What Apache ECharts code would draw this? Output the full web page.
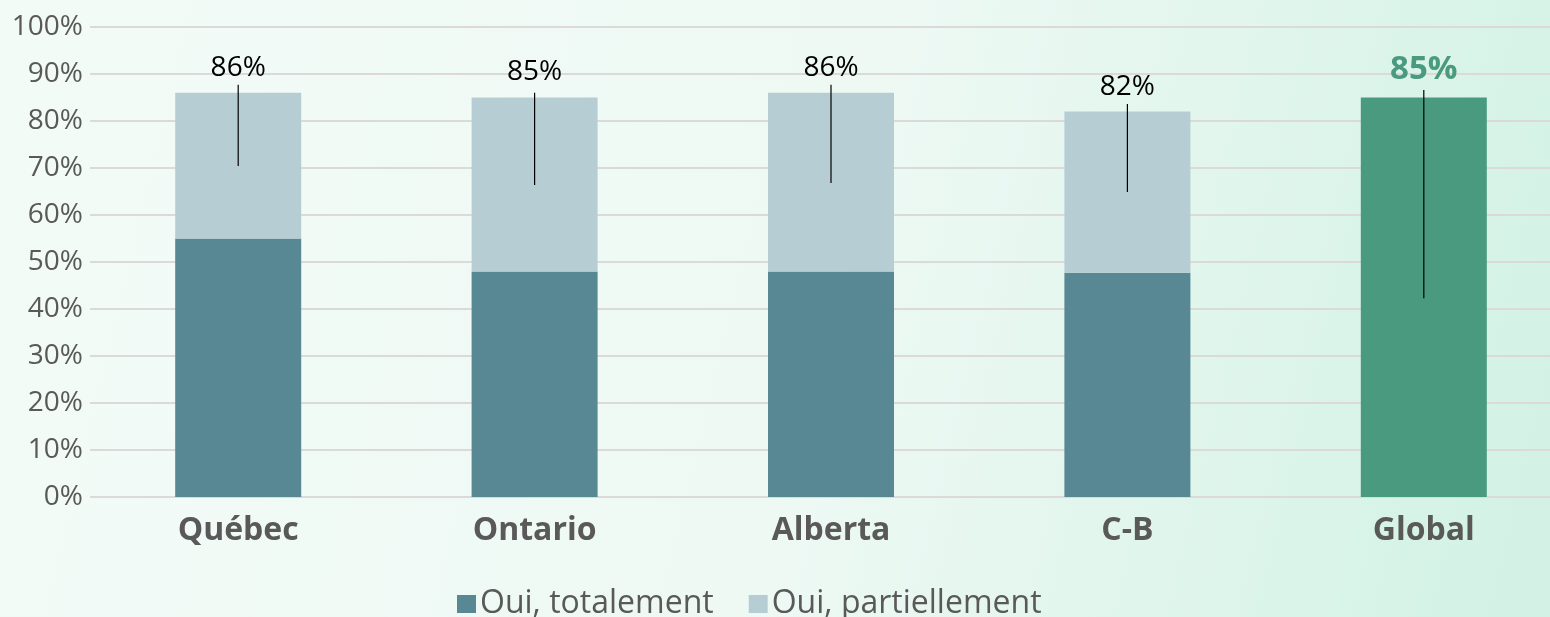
<!DOCTYPE html>
<html><head><meta charset="utf-8">
<script src="https://cdn.jsdelivr.net/npm/echarts@6/dist/echarts.min.js"></script>
<style>html,body{margin:0;padding:0;}#c{width:1550px;height:617px;}</style>
</head><body><div id="c"></div>
<script>
const categories = ['Québec', 'Ontario', 'Alberta', 'C-B', 'Global'];
const totalement = [55, 48, 48, 47.7, 85];
const partiellement = [31, 37, 38, 34.3, 0];
const totals = [86, 85, 86, 82, 85];
const leaderTop = [87.7, 86.0, 87.7, 83.6, 86.6];
const leaderBottom = [70.4, 66.4, 66.8, 64.9, 42.3];
const yTicks = { min: 0, max: 100, interval: 10 };

const DARK = '#578893', LIGHT = '#b7cdd4', GREEN = '#4a9a80', GREY = '#595959';
const FONT = '"Open Sans", "Noto Sans", sans-serif';

const chart = echarts.init(document.getElementById('c'));
chart.setOption({
  backgroundColor: new echarts.graphic.LinearGradient(0, 0, 1, 0.6, [
    { offset: 0, color: '#f3fbf7' }, { offset: 0.55, color: '#eef9f4' }, { offset: 1, color: '#d3f2e5' }
  ]),
  textStyle: { fontFamily: FONT },
  animation: false,
  grid: { left: 90, right: -22, top: 27, bottom: 120, containLabel: false, outerBoundsMode: 'none' },
  legend: {
    data: ['Oui, totalement', 'Oui, partiellement'],
    left: 452, top: 583, icon: 'rect', itemWidth: 19, itemHeight: 18, itemGap: 35,
    textStyle: { fontSize: 32, color: GREY, fontFamily: FONT, padding: [0, 0, 0, -1] }
  },
  xAxis: {
    type: 'category', data: categories,
    axisLine: { show: false }, axisTick: { show: false },
    axisLabel: { fontSize: 32, fontWeight: 'bold', color: GREY, margin: 18, fontFamily: FONT }
  },
  yAxis: {
    type: 'value', min: yTicks.min, max: yTicks.max, interval: yTicks.interval,
    axisLabel: { formatter: '{value}%', fontSize: 28, color: GREY, margin: 7, fontFamily: FONT },
    splitLine: { lineStyle: { color: '#dcd9d9', width: 2 } },
    axisLine: { show: false }, axisTick: { show: false }
  },
  series: [
    {
      name: 'Oui, totalement', type: 'bar', stack: 's', barWidth: 126,
      itemStyle: { color: DARK },
      data: totalement.map((v, i) => i === 4 ? { value: v, itemStyle: { color: GREEN } } : v)
    },
    {
      name: 'Oui, partiellement', type: 'bar', stack: 's', barWidth: 126,
      itemStyle: { color: LIGHT },
      label: {
        show: true, position: 'top', distance: 11, fontSize: 28, color: '#000', fontFamily: FONT,
        formatter: p => totals[p.dataIndex] + '%'
      },
      data: partiellement.map((v, i) => i === 4 ? {
        value: v,
        label: { color: GREEN, fontWeight: 'bold', fontSize: 33, distance: 11 }
      } : v)
    },
    {
      type: 'custom', name: 'leader', silent: true, z: 5,
      data: categories.map((c, i) => [i, leaderTop[i], leaderBottom[i]]),
      renderItem: (params, api) => {
        const a = api.coord([api.value(0), api.value(1)]);
        const b = api.coord([api.value(0), api.value(2)]);
        return { type: 'line', shape: { x1: a[0], y1: a[1], x2: b[0], y2: b[1] },
                 style: { stroke: '#000', lineWidth: 1.2 } };
      }
    }
  ]
});
</script></body></html>
